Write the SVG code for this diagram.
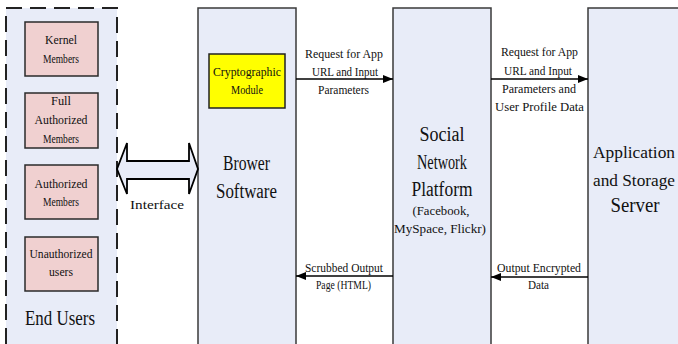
<svg xmlns="http://www.w3.org/2000/svg" width="678" height="344" viewBox="0 0 678 344">
<defs>
<marker id="ah" markerWidth="10" markerHeight="8" refX="10" refY="4" orient="auto" markerUnits="userSpaceOnUse">
<path d="M0,0 L10,4 L0,8 Z" fill="#000"/>
</marker>
<style>
text{font-family:"Liberation Serif","DejaVu Serif","Times New Roman",serif;fill:#111;text-anchor:middle}
.s{font-size:13.5px}
.b{font-size:20px}
.r{font-size:17px}
.panel{fill:#E8ECF8;stroke:#3a3a3a;stroke-width:1.5}
.member{fill:#F0D0D0;stroke:#2a2a2a;stroke-width:1.5}
.conn{stroke:#000;stroke-width:1.6;fill:none}
</style>
</defs>
<rect width="678" height="344" fill="#fff"/>
<g id="end-users">
<rect x="6" y="8" width="111" height="345" fill="#E8ECF8" stroke="#222" stroke-width="2" stroke-dasharray="16 8"/>
<text class="b" x="60" y="325" textLength="70" lengthAdjust="spacingAndGlyphs">End Users</text>
</g>
<g id="kernel-members">
<rect class="member" x="25" y="22" width="73" height="54"/>
<text class="s" x="61" y="44" textLength="32" lengthAdjust="spacingAndGlyphs">Kernel</text>
<text class="s" x="61" y="63" textLength="36" lengthAdjust="spacingAndGlyphs">Members</text>
</g>
<g id="full-authorized-members">
<rect class="member" x="25" y="93" width="73" height="55"/>
<text class="s" x="61" y="105" textLength="20" lengthAdjust="spacingAndGlyphs">Full</text>
<text class="s" x="61" y="124" textLength="53" lengthAdjust="spacingAndGlyphs">Authorized</text>
<text class="s" x="61" y="143" textLength="36" lengthAdjust="spacingAndGlyphs">Members</text>
</g>
<g id="authorized-members">
<rect class="member" x="25" y="165" width="73" height="54"/>
<text class="s" x="61" y="188" textLength="53" lengthAdjust="spacingAndGlyphs">Authorized</text>
<text class="s" x="61" y="206" textLength="36" lengthAdjust="spacingAndGlyphs">Members</text>
</g>
<g id="unauthorized-users">
<rect class="member" x="25" y="237" width="73" height="54"/>
<text class="s" x="61" y="258" textLength="63" lengthAdjust="spacingAndGlyphs">Unauthorized</text>
<text class="s" x="61" y="276" textLength="24" lengthAdjust="spacingAndGlyphs">users</text>
</g>
<g id="browser-software">
<rect class="panel" x="198" y="8" width="98" height="345"/>
<text class="b" x="246.5" y="170" textLength="47" lengthAdjust="spacingAndGlyphs">Brower</text>
<text class="b" x="246.5" y="198" textLength="61" lengthAdjust="spacingAndGlyphs">Software</text>
</g>
<g id="cryptographic-module">
<rect x="209" y="54" width="76" height="54" fill="#FFFF00" stroke="#222" stroke-width="1.5"/>
<text class="s" x="247" y="76" textLength="68" lengthAdjust="spacingAndGlyphs">Cryptographic</text>
<text class="s" x="247" y="94" textLength="32" lengthAdjust="spacingAndGlyphs">Module</text>
</g>
<g id="social-network-platform">
<rect class="panel" x="393" y="8" width="98" height="345"/>
<text class="b" x="442" y="141" textLength="45" lengthAdjust="spacingAndGlyphs">Social</text>
<text class="b" x="442" y="169" textLength="50" lengthAdjust="spacingAndGlyphs">Network</text>
<text class="b" x="442" y="196" textLength="61" lengthAdjust="spacingAndGlyphs">Platform</text>
<text class="s" x="441" y="215" textLength="57" lengthAdjust="spacingAndGlyphs">(Facebook,</text>
<text class="s" x="440" y="233" textLength="92" lengthAdjust="spacingAndGlyphs">MySpace, Flickr)</text>
</g>
<g id="application-storage-server">
<rect class="panel" x="588" y="8" width="100" height="345"/>
<text class="r" x="634" y="158" textLength="82" lengthAdjust="spacingAndGlyphs">Application</text>
<text class="r" x="634" y="186" textLength="82" lengthAdjust="spacingAndGlyphs">and Storage</text>
<text class="b" x="635" y="212" textLength="49" lengthAdjust="spacingAndGlyphs">Server</text>
</g>
<g id="connectors">
<path d="M117,169 L127,143 L127,161 L189,161 L189,143 L198,169 L189,194 L189,179 L127,179 L127,194 Z" fill="#E8ECF8" stroke="#000" stroke-width="1.8" stroke-linejoin="miter"/>
<text class="s" x="157" y="209" textLength="54" lengthAdjust="spacingAndGlyphs">Interface</text>
<line class="conn" x1="296" y1="79" x2="393" y2="79" marker-end="url(#ah)"/>
<text class="s" x="344" y="58" textLength="78" lengthAdjust="spacingAndGlyphs">Request for App</text>
<text class="s" x="345" y="76" textLength="66" lengthAdjust="spacingAndGlyphs">URL and Input</text>
<text class="s" x="343.5" y="94" textLength="51" lengthAdjust="spacingAndGlyphs">Parameters</text>
<line class="conn" x1="491" y1="79" x2="588" y2="79" marker-end="url(#ah)"/>
<text class="s" x="539.5" y="56" textLength="77" lengthAdjust="spacingAndGlyphs">Request for App</text>
<text class="s" x="538" y="75" textLength="68" lengthAdjust="spacingAndGlyphs">URL and Input</text>
<text class="s" x="539" y="93" textLength="74" lengthAdjust="spacingAndGlyphs">Parameters and</text>
<text class="s" x="539.5" y="111" textLength="89" lengthAdjust="spacingAndGlyphs">User Profile Data</text>
<line class="conn" x1="393" y1="276" x2="296" y2="276" marker-end="url(#ah)"/>
<text class="s" x="344" y="272" textLength="78" lengthAdjust="spacingAndGlyphs">Scrubbed Output</text>
<text class="s" x="343.5" y="289" textLength="55" lengthAdjust="spacingAndGlyphs">Page (HTML)</text>
<line class="conn" x1="588" y1="277" x2="491" y2="277" marker-end="url(#ah)"/>
<text class="s" x="539" y="272" textLength="84" lengthAdjust="spacingAndGlyphs">Output Encrypted</text>
<text class="s" x="538.5" y="289" textLength="21" lengthAdjust="spacingAndGlyphs">Data</text>
</g>
</svg>
